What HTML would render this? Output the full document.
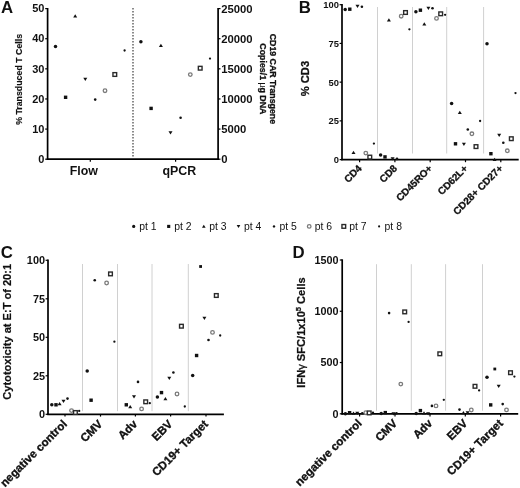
<!DOCTYPE html>
<html><head><meta charset="utf-8"><title>Figure</title>
<style>
html,body{margin:0;padding:0;background:#fff;width:520px;height:488px;overflow:hidden;}
svg{display:block;filter:grayscale(1);}
text{font-family:"Liberation Sans", sans-serif;}
</style></head><body>
<svg width="520" height="488" viewBox="0 0 520 488">
<rect width="520" height="488" fill="#fff"/>
<text x="1.0" y="13.1" font-size="16.8" font-weight="bold" text-anchor="start" fill="#111" >A</text>
<line x1="47.6" y1="8.0" x2="47.6" y2="160.0" stroke="#000" stroke-width="1.7" />
<line x1="46.8" y1="159.2" x2="218.9" y2="159.2" stroke="#000" stroke-width="1.7" />
<line x1="218.1" y1="8.0" x2="218.1" y2="160.0" stroke="#000" stroke-width="1.7" />
<line x1="45.2" y1="159.2" x2="47.6" y2="159.2" stroke="#000" stroke-width="1.2" />
<text x="44.4" y="162.89999999999998" font-size="11" font-weight="bold" text-anchor="end" fill="#111" >0</text>
<line x1="45.2" y1="129.07999999999998" x2="47.6" y2="129.07999999999998" stroke="#000" stroke-width="1.2" />
<text x="44.4" y="132.77999999999997" font-size="11" font-weight="bold" text-anchor="end" fill="#111" >10</text>
<line x1="45.2" y1="98.95999999999998" x2="47.6" y2="98.95999999999998" stroke="#000" stroke-width="1.2" />
<text x="44.4" y="102.65999999999998" font-size="11" font-weight="bold" text-anchor="end" fill="#111" >20</text>
<line x1="45.2" y1="68.83999999999999" x2="47.6" y2="68.83999999999999" stroke="#000" stroke-width="1.2" />
<text x="44.4" y="72.53999999999999" font-size="11" font-weight="bold" text-anchor="end" fill="#111" >30</text>
<line x1="45.2" y1="38.719999999999985" x2="47.6" y2="38.719999999999985" stroke="#000" stroke-width="1.2" />
<text x="44.4" y="42.41999999999999" font-size="11" font-weight="bold" text-anchor="end" fill="#111" >40</text>
<line x1="45.2" y1="8.599999999999994" x2="47.6" y2="8.599999999999994" stroke="#000" stroke-width="1.2" />
<text x="44.4" y="12.299999999999994" font-size="11" font-weight="bold" text-anchor="end" fill="#111" >50</text>
<line x1="218.1" y1="159.2" x2="220.5" y2="159.2" stroke="#000" stroke-width="1.2" />
<text x="221.2" y="163.14999999999998" font-size="11.3" font-weight="bold" text-anchor="start" fill="#111" >0</text>
<line x1="218.1" y1="129.07999999999998" x2="220.5" y2="129.07999999999998" stroke="#000" stroke-width="1.2" />
<text x="221.2" y="133.02999999999997" font-size="11.3" font-weight="bold" text-anchor="start" fill="#111" >5000</text>
<line x1="218.1" y1="98.95999999999998" x2="220.5" y2="98.95999999999998" stroke="#000" stroke-width="1.2" />
<text x="221.2" y="102.90999999999998" font-size="11.3" font-weight="bold" text-anchor="start" fill="#111" >10000</text>
<line x1="218.1" y1="68.83999999999999" x2="220.5" y2="68.83999999999999" stroke="#000" stroke-width="1.2" />
<text x="221.2" y="72.78999999999999" font-size="11.3" font-weight="bold" text-anchor="start" fill="#111" >15000</text>
<line x1="218.1" y1="38.719999999999985" x2="220.5" y2="38.719999999999985" stroke="#000" stroke-width="1.2" />
<text x="221.2" y="42.66999999999999" font-size="11.3" font-weight="bold" text-anchor="start" fill="#111" >20000</text>
<line x1="218.1" y1="8.599999999999994" x2="220.5" y2="8.599999999999994" stroke="#000" stroke-width="1.2" />
<text x="221.2" y="12.549999999999994" font-size="11.3" font-weight="bold" text-anchor="start" fill="#111" >25000</text>
<line x1="90.3" y1="159.2" x2="90.3" y2="161.8" stroke="#000" stroke-width="1.2" />
<line x1="175.6" y1="159.2" x2="175.6" y2="161.8" stroke="#000" stroke-width="1.2" />
<text x="83.8" y="174.8" font-size="12.4" font-weight="bold" text-anchor="middle" fill="#111" >Flow</text>
<text x="179.3" y="174.8" font-size="12.4" font-weight="bold" text-anchor="middle" fill="#111" >qPCR</text>
<line x1="133.0" y1="8.0" x2="133.0" y2="158.0" stroke="#5a5a5a" stroke-width="1.4" stroke-dasharray="1.5 1.5"/>
<text x="0" y="0" font-size="8.8" font-weight="bold" text-anchor="middle" fill="#111" stroke="#111" stroke-width="0.15" transform="translate(21.8 79.4) rotate(-90)">% Transduced T Cells</text>
<g transform="translate(270.4 78.9) rotate(90)"><text x="0" y="0" font-size="8.8" font-weight="bold" text-anchor="middle" fill="#111" stroke="#111" stroke-width="0.3" >CD19 CAR Transgene</text><text x="0" y="10.4" font-size="8.8" font-weight="bold" text-anchor="middle" fill="#111" stroke="#111" stroke-width="0.3" >Copies/1 <tspan font-weight="normal" stroke-width="0">µ</tspan>g DNA</text></g>
<circle cx="55.50" cy="46.50" r="1.75" fill="#111"/>
<rect x="63.90" y="95.60" width="3.40" height="3.40" fill="#111"/>
<path d="M75.20 14.20L77.20 17.44L73.20 17.44Z" fill="#111"/>
<path d="M85.30 80.90L87.30 77.66L83.30 77.66Z" fill="#111"/>
<circle cx="95.20" cy="99.60" r="1.30" fill="#111"/>
<circle cx="105.00" cy="90.70" r="1.80" fill="#fff" stroke="#7a7a7a" stroke-width="1.30"/>
<rect x="112.95" y="72.65" width="3.70" height="3.70" fill="#fff" stroke="#2a2a2a" stroke-width="1.40"/>
<circle cx="124.60" cy="50.50" r="1.15" fill="#111"/>
<circle cx="140.90" cy="41.80" r="1.75" fill="#111"/>
<rect x="149.40" y="106.70" width="3.40" height="3.40" fill="#111"/>
<path d="M160.90 43.80L162.90 47.04L158.90 47.04Z" fill="#111"/>
<path d="M170.50 134.60L172.50 131.36L168.50 131.36Z" fill="#111"/>
<circle cx="180.60" cy="117.70" r="1.30" fill="#111"/>
<circle cx="190.30" cy="74.60" r="1.80" fill="#fff" stroke="#7a7a7a" stroke-width="1.30"/>
<rect x="198.35" y="66.35" width="3.70" height="3.70" fill="#fff" stroke="#2a2a2a" stroke-width="1.40"/>
<circle cx="210.00" cy="58.60" r="1.15" fill="#111"/>
<text x="298.8" y="13.0" font-size="16.8" font-weight="bold" text-anchor="start" fill="#111" >B</text>
<line x1="342.0" y1="4.0" x2="342.0" y2="160.3" stroke="#000" stroke-width="1.7" />
<line x1="341.2" y1="159.6" x2="518.7" y2="159.6" stroke="#000" stroke-width="1.7" />
<line x1="339.6" y1="159.6" x2="342" y2="159.6" stroke="#000" stroke-width="1.2" />
<text x="339.0" y="163.0" font-size="9.4" font-weight="bold" text-anchor="end" fill="#111" >0</text>
<line x1="339.6" y1="120.875" x2="342" y2="120.875" stroke="#000" stroke-width="1.2" />
<text x="339.0" y="124.275" font-size="9.4" font-weight="bold" text-anchor="end" fill="#111" >25</text>
<line x1="339.6" y1="82.14999999999999" x2="342" y2="82.14999999999999" stroke="#000" stroke-width="1.2" />
<text x="339.0" y="85.55" font-size="9.4" font-weight="bold" text-anchor="end" fill="#111" >50</text>
<line x1="339.6" y1="43.425" x2="342" y2="43.425" stroke="#000" stroke-width="1.2" />
<text x="339.0" y="46.824999999999996" font-size="9.4" font-weight="bold" text-anchor="end" fill="#111" >75</text>
<line x1="339.6" y1="4.699999999999989" x2="342" y2="4.699999999999989" stroke="#000" stroke-width="1.2" />
<text x="339.0" y="8.099999999999989" font-size="9.4" font-weight="bold" text-anchor="end" fill="#111" >100</text>
<line x1="377.5" y1="7.0" x2="377.5" y2="153.5" stroke="#d0d0d0" stroke-width="1.0" />
<line x1="412.5" y1="7.0" x2="412.5" y2="153.5" stroke="#d0d0d0" stroke-width="1.0" />
<line x1="446.7" y1="7.0" x2="446.7" y2="153.5" stroke="#d0d0d0" stroke-width="1.0" />
<line x1="483.6" y1="7.0" x2="483.6" y2="153.5" stroke="#d0d0d0" stroke-width="1.0" />
<line x1="359.6" y1="159.6" x2="359.6" y2="162.2" stroke="#000" stroke-width="1.2" />
<line x1="394.9" y1="159.6" x2="394.9" y2="162.2" stroke="#000" stroke-width="1.2" />
<line x1="430.2" y1="159.6" x2="430.2" y2="162.2" stroke="#000" stroke-width="1.2" />
<line x1="465.5" y1="159.6" x2="465.5" y2="162.2" stroke="#000" stroke-width="1.2" />
<line x1="500.8" y1="159.6" x2="500.8" y2="162.2" stroke="#000" stroke-width="1.2" />
<text x="0" y="0" font-size="11.2" font-weight="bold" text-anchor="middle" fill="#111" stroke="#111" stroke-width="0.3" transform="translate(308.9 78.6) rotate(-90)">% CD3</text>
<text x="0" y="0" font-size="10.0" font-weight="bold" text-anchor="end" fill="#111" stroke="#111" stroke-width="0.3" transform="translate(362.4 169.0) rotate(-45)">CD4</text>
<text x="0" y="0" font-size="10.0" font-weight="bold" text-anchor="end" fill="#111" stroke="#111" stroke-width="0.3" transform="translate(397.7 169.0) rotate(-45)">CD8</text>
<text x="0" y="0" font-size="10.0" font-weight="bold" text-anchor="end" fill="#111" stroke="#111" stroke-width="0.3" transform="translate(433.0 169.0) rotate(-45)">CD45RO+</text>
<text x="0" y="0" font-size="10.0" font-weight="bold" text-anchor="end" fill="#111" stroke="#111" stroke-width="0.3" transform="translate(468.3 169.0) rotate(-45)">CD62L+</text>
<text x="0" y="0" font-size="10.0" font-weight="bold" text-anchor="end" fill="#111" stroke="#111" stroke-width="0.3" transform="translate(503.6 169.0) rotate(-45)">CD28+ CD27+</text>
<circle cx="345.20" cy="9.50" r="1.75" fill="#111"/>
<rect x="348.10" y="7.50" width="3.40" height="3.40" fill="#111"/>
<path d="M353.50 150.70L355.50 153.94L351.50 153.94Z" fill="#111"/>
<path d="M357.50 8.10L359.50 4.86L355.50 4.86Z" fill="#111"/>
<circle cx="361.90" cy="6.80" r="1.30" fill="#111"/>
<circle cx="365.80" cy="153.10" r="1.80" fill="#fff" stroke="#7a7a7a" stroke-width="1.30"/>
<rect x="367.95" y="155.25" width="3.70" height="3.70" fill="#fff" stroke="#2a2a2a" stroke-width="1.40"/>
<circle cx="373.90" cy="143.60" r="1.15" fill="#111"/>
<circle cx="380.60" cy="155.00" r="1.75" fill="#111"/>
<rect x="383.30" y="155.20" width="3.40" height="3.40" fill="#111"/>
<path d="M388.90 18.30L390.90 21.54L386.90 21.54Z" fill="#111"/>
<path d="M392.60 160.50L394.60 157.26L390.60 157.26Z" fill="#111"/>
<circle cx="397.00" cy="158.90" r="1.30" fill="#111"/>
<circle cx="401.20" cy="16.20" r="1.80" fill="#fff" stroke="#7a7a7a" stroke-width="1.30"/>
<rect x="403.65" y="10.65" width="3.70" height="3.70" fill="#fff" stroke="#2a2a2a" stroke-width="1.40"/>
<circle cx="409.40" cy="29.30" r="1.15" fill="#111"/>
<circle cx="415.90" cy="11.70" r="1.75" fill="#111"/>
<rect x="418.70" y="8.50" width="3.40" height="3.40" fill="#111"/>
<path d="M424.30 22.20L426.30 25.44L422.30 25.44Z" fill="#111"/>
<path d="M428.40 10.00L430.40 6.76L426.40 6.76Z" fill="#111"/>
<circle cx="432.50" cy="8.20" r="1.30" fill="#111"/>
<circle cx="436.50" cy="18.40" r="1.80" fill="#fff" stroke="#7a7a7a" stroke-width="1.30"/>
<rect x="438.85" y="11.95" width="3.70" height="3.70" fill="#fff" stroke="#2a2a2a" stroke-width="1.40"/>
<circle cx="445.10" cy="14.80" r="1.15" fill="#111"/>
<circle cx="451.60" cy="103.40" r="1.75" fill="#111"/>
<rect x="453.80" y="142.10" width="3.40" height="3.40" fill="#111"/>
<path d="M459.80 110.70L461.80 113.94L457.80 113.94Z" fill="#111"/>
<path d="M463.90 146.00L465.90 142.76L461.90 142.76Z" fill="#111"/>
<circle cx="467.80" cy="129.50" r="1.30" fill="#111"/>
<circle cx="471.90" cy="133.80" r="1.80" fill="#fff" stroke="#7a7a7a" stroke-width="1.30"/>
<rect x="474.15" y="144.75" width="3.70" height="3.70" fill="#fff" stroke="#2a2a2a" stroke-width="1.40"/>
<circle cx="480.10" cy="121.00" r="1.15" fill="#111"/>
<circle cx="487.00" cy="43.80" r="1.75" fill="#111"/>
<rect x="489.20" y="152.00" width="3.40" height="3.40" fill="#111"/>
<path d="M494.60 157.70L496.60 160.94L492.60 160.94Z" fill="#111"/>
<path d="M499.20 137.00L501.20 133.76L497.20 133.76Z" fill="#111"/>
<circle cx="503.30" cy="142.70" r="1.30" fill="#111"/>
<circle cx="507.30" cy="150.80" r="1.80" fill="#fff" stroke="#7a7a7a" stroke-width="1.30"/>
<rect x="509.45" y="136.85" width="3.70" height="3.70" fill="#fff" stroke="#2a2a2a" stroke-width="1.40"/>
<circle cx="515.50" cy="93.10" r="1.15" fill="#111"/>
<circle cx="133.70" cy="226.40" r="1.61" fill="#111"/>
<text x="139.2" y="229.9" font-size="10.4" font-weight="normal" text-anchor="start" fill="#111" >pt 1</text>
<rect x="167.14" y="224.84" width="3.13" height="3.13" fill="#111"/>
<text x="174.2" y="229.9" font-size="10.4" font-weight="normal" text-anchor="start" fill="#111" >pt 2</text>
<path d="M203.80 224.74L205.64 227.72L201.96 227.72Z" fill="#111"/>
<text x="209.3" y="229.9" font-size="10.4" font-weight="normal" text-anchor="start" fill="#111" >pt 3</text>
<path d="M238.50 228.06L240.34 225.08L236.66 225.08Z" fill="#111"/>
<text x="244.0" y="229.9" font-size="10.4" font-weight="normal" text-anchor="start" fill="#111" >pt 4</text>
<circle cx="274.00" cy="226.40" r="1.20" fill="#111"/>
<text x="279.5" y="229.9" font-size="10.4" font-weight="normal" text-anchor="start" fill="#111" >pt 5</text>
<circle cx="309.20" cy="226.40" r="1.80" fill="#fff" stroke="#7a7a7a" stroke-width="1.30"/>
<text x="314.7" y="229.9" font-size="10.4" font-weight="normal" text-anchor="start" fill="#111" >pt 6</text>
<rect x="341.95" y="224.55" width="3.70" height="3.70" fill="#fff" stroke="#2a2a2a" stroke-width="1.40"/>
<text x="349.3" y="229.9" font-size="10.4" font-weight="normal" text-anchor="start" fill="#111" >pt 7</text>
<circle cx="379.10" cy="226.40" r="1.06" fill="#111"/>
<text x="384.6" y="229.9" font-size="10.4" font-weight="normal" text-anchor="start" fill="#111" >pt 8</text>
<text x="0.8" y="258.2" font-size="16.8" font-weight="bold" text-anchor="start" fill="#111" >C</text>
<line x1="48.0" y1="259.5" x2="48.0" y2="414.8" stroke="#000" stroke-width="1.7" />
<line x1="47.2" y1="414.3" x2="223.9" y2="414.3" stroke="#000" stroke-width="1.7" />
<line x1="45.6" y1="414.3" x2="48" y2="414.3" stroke="#000" stroke-width="1.2" />
<text x="45.0" y="418.2" font-size="10.9" font-weight="bold" text-anchor="end" fill="#111" >0</text>
<line x1="45.6" y1="375.8" x2="48" y2="375.8" stroke="#000" stroke-width="1.2" />
<text x="45.0" y="379.7" font-size="10.9" font-weight="bold" text-anchor="end" fill="#111" >25</text>
<line x1="45.6" y1="337.3" x2="48" y2="337.3" stroke="#000" stroke-width="1.2" />
<text x="45.0" y="341.2" font-size="10.9" font-weight="bold" text-anchor="end" fill="#111" >50</text>
<line x1="45.6" y1="298.8" x2="48" y2="298.8" stroke="#000" stroke-width="1.2" />
<text x="45.0" y="302.7" font-size="10.9" font-weight="bold" text-anchor="end" fill="#111" >75</text>
<line x1="45.6" y1="260.3" x2="48" y2="260.3" stroke="#000" stroke-width="1.2" />
<text x="45.0" y="264.2" font-size="10.9" font-weight="bold" text-anchor="end" fill="#111" >100</text>
<line x1="82.5" y1="264.0" x2="82.5" y2="411.2" stroke="#d0d0d0" stroke-width="1.0" />
<line x1="117.5" y1="264.0" x2="117.5" y2="411.2" stroke="#d0d0d0" stroke-width="1.0" />
<line x1="152.0" y1="264.0" x2="152.0" y2="411.2" stroke="#d0d0d0" stroke-width="1.0" />
<line x1="188.3" y1="264.0" x2="188.3" y2="411.2" stroke="#d0d0d0" stroke-width="1.0" />
<line x1="65.0" y1="414.3" x2="65.0" y2="416.6" stroke="#000" stroke-width="1.2" />
<line x1="100.5" y1="414.3" x2="100.5" y2="416.6" stroke="#000" stroke-width="1.2" />
<line x1="135.4" y1="414.3" x2="135.4" y2="416.6" stroke="#000" stroke-width="1.2" />
<line x1="170.6" y1="414.3" x2="170.6" y2="416.6" stroke="#000" stroke-width="1.2" />
<line x1="206.0" y1="414.3" x2="206.0" y2="416.6" stroke="#000" stroke-width="1.2" />
<text x="0" y="0" font-size="11.3" font-weight="bold" text-anchor="middle" fill="#111" stroke="#111" stroke-width="0.2" transform="translate(11.0 331.8) rotate(-90) scale(0.98 1)">Cytotoxicity at E:T of 20:1</text>
<text x="0" y="0" font-size="11.5" font-weight="bold" text-anchor="end" fill="#111" stroke="#111" stroke-width="0.35" transform="translate(67.7 424.7) rotate(-45)">negative control</text>
<text x="0" y="0" font-size="11.5" font-weight="bold" text-anchor="end" fill="#111" stroke="#111" stroke-width="0.35" transform="translate(103.2 424.7) rotate(-45)">CMV</text>
<text x="0" y="0" font-size="11.5" font-weight="bold" text-anchor="end" fill="#111" stroke="#111" stroke-width="0.35" transform="translate(138.1 424.7) rotate(-45)">Adv</text>
<text x="0" y="0" font-size="11.5" font-weight="bold" text-anchor="end" fill="#111" stroke="#111" stroke-width="0.35" transform="translate(173.3 424.7) rotate(-45)">EBV</text>
<text x="0" y="0" font-size="11.5" font-weight="bold" text-anchor="end" fill="#111" stroke="#111" stroke-width="0.35" transform="translate(208.7 424.7) rotate(-45)">CD19+ Target</text>
<circle cx="51.80" cy="404.80" r="1.75" fill="#111"/>
<rect x="54.30" y="403.10" width="3.40" height="3.40" fill="#111"/>
<path d="M59.60 401.90L61.60 405.14L57.60 405.14Z" fill="#111"/>
<path d="M63.50 403.00L65.50 399.76L61.50 399.76Z" fill="#111"/>
<circle cx="67.50" cy="398.60" r="1.30" fill="#111"/>
<circle cx="71.50" cy="410.60" r="1.80" fill="#fff" stroke="#7a7a7a" stroke-width="1.30"/>
<rect x="73.55" y="410.65" width="3.70" height="3.70" fill="#fff" stroke="#2a2a2a" stroke-width="1.40"/>
<circle cx="79.20" cy="410.90" r="1.15" fill="#111"/>
<circle cx="87.20" cy="370.90" r="1.75" fill="#111"/>
<rect x="89.40" y="398.50" width="3.40" height="3.40" fill="#111"/>
<circle cx="94.75" cy="280.20" r="1.30" fill="#111"/>
<circle cx="106.60" cy="283.00" r="1.80" fill="#fff" stroke="#7a7a7a" stroke-width="1.30"/>
<rect x="108.65" y="272.05" width="3.70" height="3.70" fill="#fff" stroke="#2a2a2a" stroke-width="1.40"/>
<circle cx="114.40" cy="341.70" r="1.15" fill="#111"/>
<rect x="124.60" y="403.10" width="3.40" height="3.40" fill="#111"/>
<path d="M130.20 404.90L132.20 408.14L128.20 408.14Z" fill="#111"/>
<path d="M134.00 398.40L136.00 395.16L132.00 395.16Z" fill="#111"/>
<circle cx="138.00" cy="381.90" r="1.30" fill="#111"/>
<circle cx="141.60" cy="408.90" r="1.80" fill="#fff" stroke="#7a7a7a" stroke-width="1.30"/>
<rect x="143.85" y="399.95" width="3.70" height="3.70" fill="#fff" stroke="#2a2a2a" stroke-width="1.40"/>
<circle cx="149.80" cy="403.20" r="1.15" fill="#111"/>
<circle cx="157.40" cy="397.10" r="1.75" fill="#111"/>
<rect x="159.80" y="390.90" width="3.40" height="3.40" fill="#111"/>
<path d="M165.40 397.10L167.40 400.34L163.40 400.34Z" fill="#111"/>
<path d="M169.30 380.00L171.30 376.76L167.30 376.76Z" fill="#111"/>
<circle cx="173.40" cy="372.50" r="1.30" fill="#111"/>
<circle cx="177.00" cy="394.00" r="1.80" fill="#fff" stroke="#7a7a7a" stroke-width="1.30"/>
<rect x="179.55" y="324.35" width="3.70" height="3.70" fill="#fff" stroke="#2a2a2a" stroke-width="1.40"/>
<circle cx="184.80" cy="406.50" r="1.15" fill="#111"/>
<circle cx="192.70" cy="375.40" r="1.75" fill="#111"/>
<rect x="194.90" y="353.80" width="3.40" height="3.40" fill="#111"/>
<rect x="199.20" y="265.10" width="2.80" height="2.80" fill="#111"/>
<path d="M204.40 320.10L206.40 316.86L202.40 316.86Z" fill="#111"/>
<circle cx="208.50" cy="340.00" r="1.30" fill="#111"/>
<circle cx="212.50" cy="332.40" r="1.80" fill="#fff" stroke="#7a7a7a" stroke-width="1.30"/>
<rect x="214.45" y="293.65" width="3.70" height="3.70" fill="#fff" stroke="#2a2a2a" stroke-width="1.40"/>
<circle cx="220.20" cy="335.50" r="1.15" fill="#111"/>
<text x="292.6" y="258.0" font-size="16.8" font-weight="bold" text-anchor="start" fill="#111" >D</text>
<line x1="342.2" y1="259.3" x2="342.2" y2="414.6" stroke="#000" stroke-width="1.7" />
<line x1="341.4" y1="413.8" x2="518.2" y2="413.8" stroke="#000" stroke-width="1.7" />
<line x1="339.8" y1="413.8" x2="342.2" y2="413.8" stroke="#000" stroke-width="1.2" />
<text x="338.6" y="417.7" font-size="10.8" font-weight="bold" text-anchor="end" fill="#111" >0</text>
<line x1="339.8" y1="362.53333333333336" x2="342.2" y2="362.53333333333336" stroke="#000" stroke-width="1.2" />
<text x="338.6" y="366.43333333333334" font-size="10.8" font-weight="bold" text-anchor="end" fill="#111" >500</text>
<line x1="339.8" y1="311.26666666666665" x2="342.2" y2="311.26666666666665" stroke="#000" stroke-width="1.2" />
<text x="338.6" y="315.16666666666663" font-size="10.8" font-weight="bold" text-anchor="end" fill="#111" >1000</text>
<line x1="339.8" y1="260.0" x2="342.2" y2="260.0" stroke="#000" stroke-width="1.2" />
<text x="338.6" y="263.9" font-size="10.8" font-weight="bold" text-anchor="end" fill="#111" >1500</text>
<line x1="376.5" y1="264.2" x2="376.5" y2="410.7" stroke="#d0d0d0" stroke-width="1.0" />
<line x1="411.3" y1="264.2" x2="411.3" y2="410.7" stroke="#d0d0d0" stroke-width="1.0" />
<line x1="445.6" y1="264.2" x2="445.6" y2="410.7" stroke="#d0d0d0" stroke-width="1.0" />
<line x1="482.5" y1="264.2" x2="482.5" y2="410.7" stroke="#d0d0d0" stroke-width="1.0" />
<line x1="359.6" y1="413.8" x2="359.6" y2="416.4" stroke="#000" stroke-width="1.2" />
<line x1="395.0" y1="413.8" x2="395.0" y2="416.4" stroke="#000" stroke-width="1.2" />
<line x1="430.0" y1="413.8" x2="430.0" y2="416.4" stroke="#000" stroke-width="1.2" />
<line x1="465.3" y1="413.8" x2="465.3" y2="416.4" stroke="#000" stroke-width="1.2" />
<line x1="500.6" y1="413.8" x2="500.6" y2="416.4" stroke="#000" stroke-width="1.2" />
<text x="0" y="0" font-size="11.1" font-weight="bold" text-anchor="middle" fill="#111" stroke="#111" stroke-width="0.25" transform="translate(304.7 332.5) rotate(-90)">IFN<tspan font-weight="normal">γ</tspan> SFC/1x10<tspan dy="-3.8" font-size="7.6">5</tspan><tspan dy="3.8"> Cells</tspan></text>
<text x="0" y="0" font-size="11.5" font-weight="bold" text-anchor="end" fill="#111" stroke="#111" stroke-width="0.35" transform="translate(362.6 424.0) rotate(-45)">negative control</text>
<text x="0" y="0" font-size="11.5" font-weight="bold" text-anchor="end" fill="#111" stroke="#111" stroke-width="0.35" transform="translate(398.0 424.0) rotate(-45)">CMV</text>
<text x="0" y="0" font-size="11.5" font-weight="bold" text-anchor="end" fill="#111" stroke="#111" stroke-width="0.35" transform="translate(433.0 424.0) rotate(-45)">Adv</text>
<text x="0" y="0" font-size="11.5" font-weight="bold" text-anchor="end" fill="#111" stroke="#111" stroke-width="0.35" transform="translate(468.3 424.0) rotate(-45)">EBV</text>
<text x="0" y="0" font-size="11.5" font-weight="bold" text-anchor="end" fill="#111" stroke="#111" stroke-width="0.35" transform="translate(503.6 424.0) rotate(-45)">CD19+ Target</text>
<circle cx="345.40" cy="413.70" r="1.75" fill="#111"/>
<rect x="347.90" y="411.00" width="3.40" height="3.40" fill="#111"/>
<path d="M353.50 411.50L355.50 414.74L351.50 414.74Z" fill="#111"/>
<path d="M357.30 415.00L359.30 411.76L355.30 411.76Z" fill="#111"/>
<circle cx="362.30" cy="413.30" r="1.30" fill="#111"/>
<circle cx="365.80" cy="412.70" r="1.80" fill="#fff" stroke="#7a7a7a" stroke-width="1.30"/>
<rect x="367.35" y="411.05" width="3.70" height="3.70" fill="#fff" stroke="#2a2a2a" stroke-width="1.40"/>
<circle cx="373.00" cy="412.70" r="1.15" fill="#111"/>
<circle cx="381.20" cy="413.60" r="1.75" fill="#111"/>
<rect x="383.60" y="410.90" width="3.40" height="3.40" fill="#111"/>
<circle cx="389.10" cy="313.10" r="1.30" fill="#111"/>
<path d="M393.50 415.40L395.50 412.16L391.50 412.16Z" fill="#111"/>
<circle cx="396.50" cy="413.30" r="1.30" fill="#111"/>
<circle cx="400.80" cy="384.10" r="1.80" fill="#fff" stroke="#7a7a7a" stroke-width="1.30"/>
<rect x="402.85" y="310.05" width="3.70" height="3.70" fill="#fff" stroke="#2a2a2a" stroke-width="1.40"/>
<circle cx="408.60" cy="321.90" r="1.15" fill="#111"/>
<circle cx="416.20" cy="413.60" r="1.75" fill="#111"/>
<rect x="418.70" y="408.90" width="3.40" height="3.40" fill="#111"/>
<path d="M424.00 411.30L426.00 414.54L422.00 414.54Z" fill="#111"/>
<path d="M428.10 415.40L430.10 412.16L426.10 412.16Z" fill="#111"/>
<circle cx="431.90" cy="405.90" r="1.30" fill="#111"/>
<circle cx="436.00" cy="405.90" r="1.80" fill="#fff" stroke="#7a7a7a" stroke-width="1.30"/>
<rect x="437.95" y="351.95" width="3.70" height="3.70" fill="#fff" stroke="#2a2a2a" stroke-width="1.40"/>
<circle cx="443.80" cy="399.80" r="1.15" fill="#111"/>
<circle cx="459.50" cy="409.60" r="1.30" fill="#111"/>
<path d="M463.40 411.00L465.40 414.24L461.40 414.24Z" fill="#111"/>
<path d="M467.60 414.40L469.60 411.16L465.60 411.16Z" fill="#111"/>
<circle cx="471.30" cy="410.00" r="1.80" fill="#fff" stroke="#7a7a7a" stroke-width="1.30"/>
<rect x="473.15" y="384.45" width="3.70" height="3.70" fill="#fff" stroke="#2a2a2a" stroke-width="1.40"/>
<circle cx="479.10" cy="390.40" r="1.15" fill="#111"/>
<circle cx="487.00" cy="377.20" r="1.75" fill="#111"/>
<rect x="489.00" y="403.20" width="3.40" height="3.40" fill="#111"/>
<rect x="493.40" y="367.60" width="2.80" height="2.80" fill="#111"/>
<path d="M498.70 387.90L500.70 384.66L496.70 384.66Z" fill="#111"/>
<circle cx="502.70" cy="404.10" r="1.30" fill="#111"/>
<circle cx="506.50" cy="409.90" r="1.80" fill="#fff" stroke="#7a7a7a" stroke-width="1.30"/>
<rect x="508.65" y="370.85" width="3.70" height="3.70" fill="#fff" stroke="#2a2a2a" stroke-width="1.40"/>
<circle cx="514.40" cy="376.60" r="1.15" fill="#111"/>
</svg>
</body></html>
